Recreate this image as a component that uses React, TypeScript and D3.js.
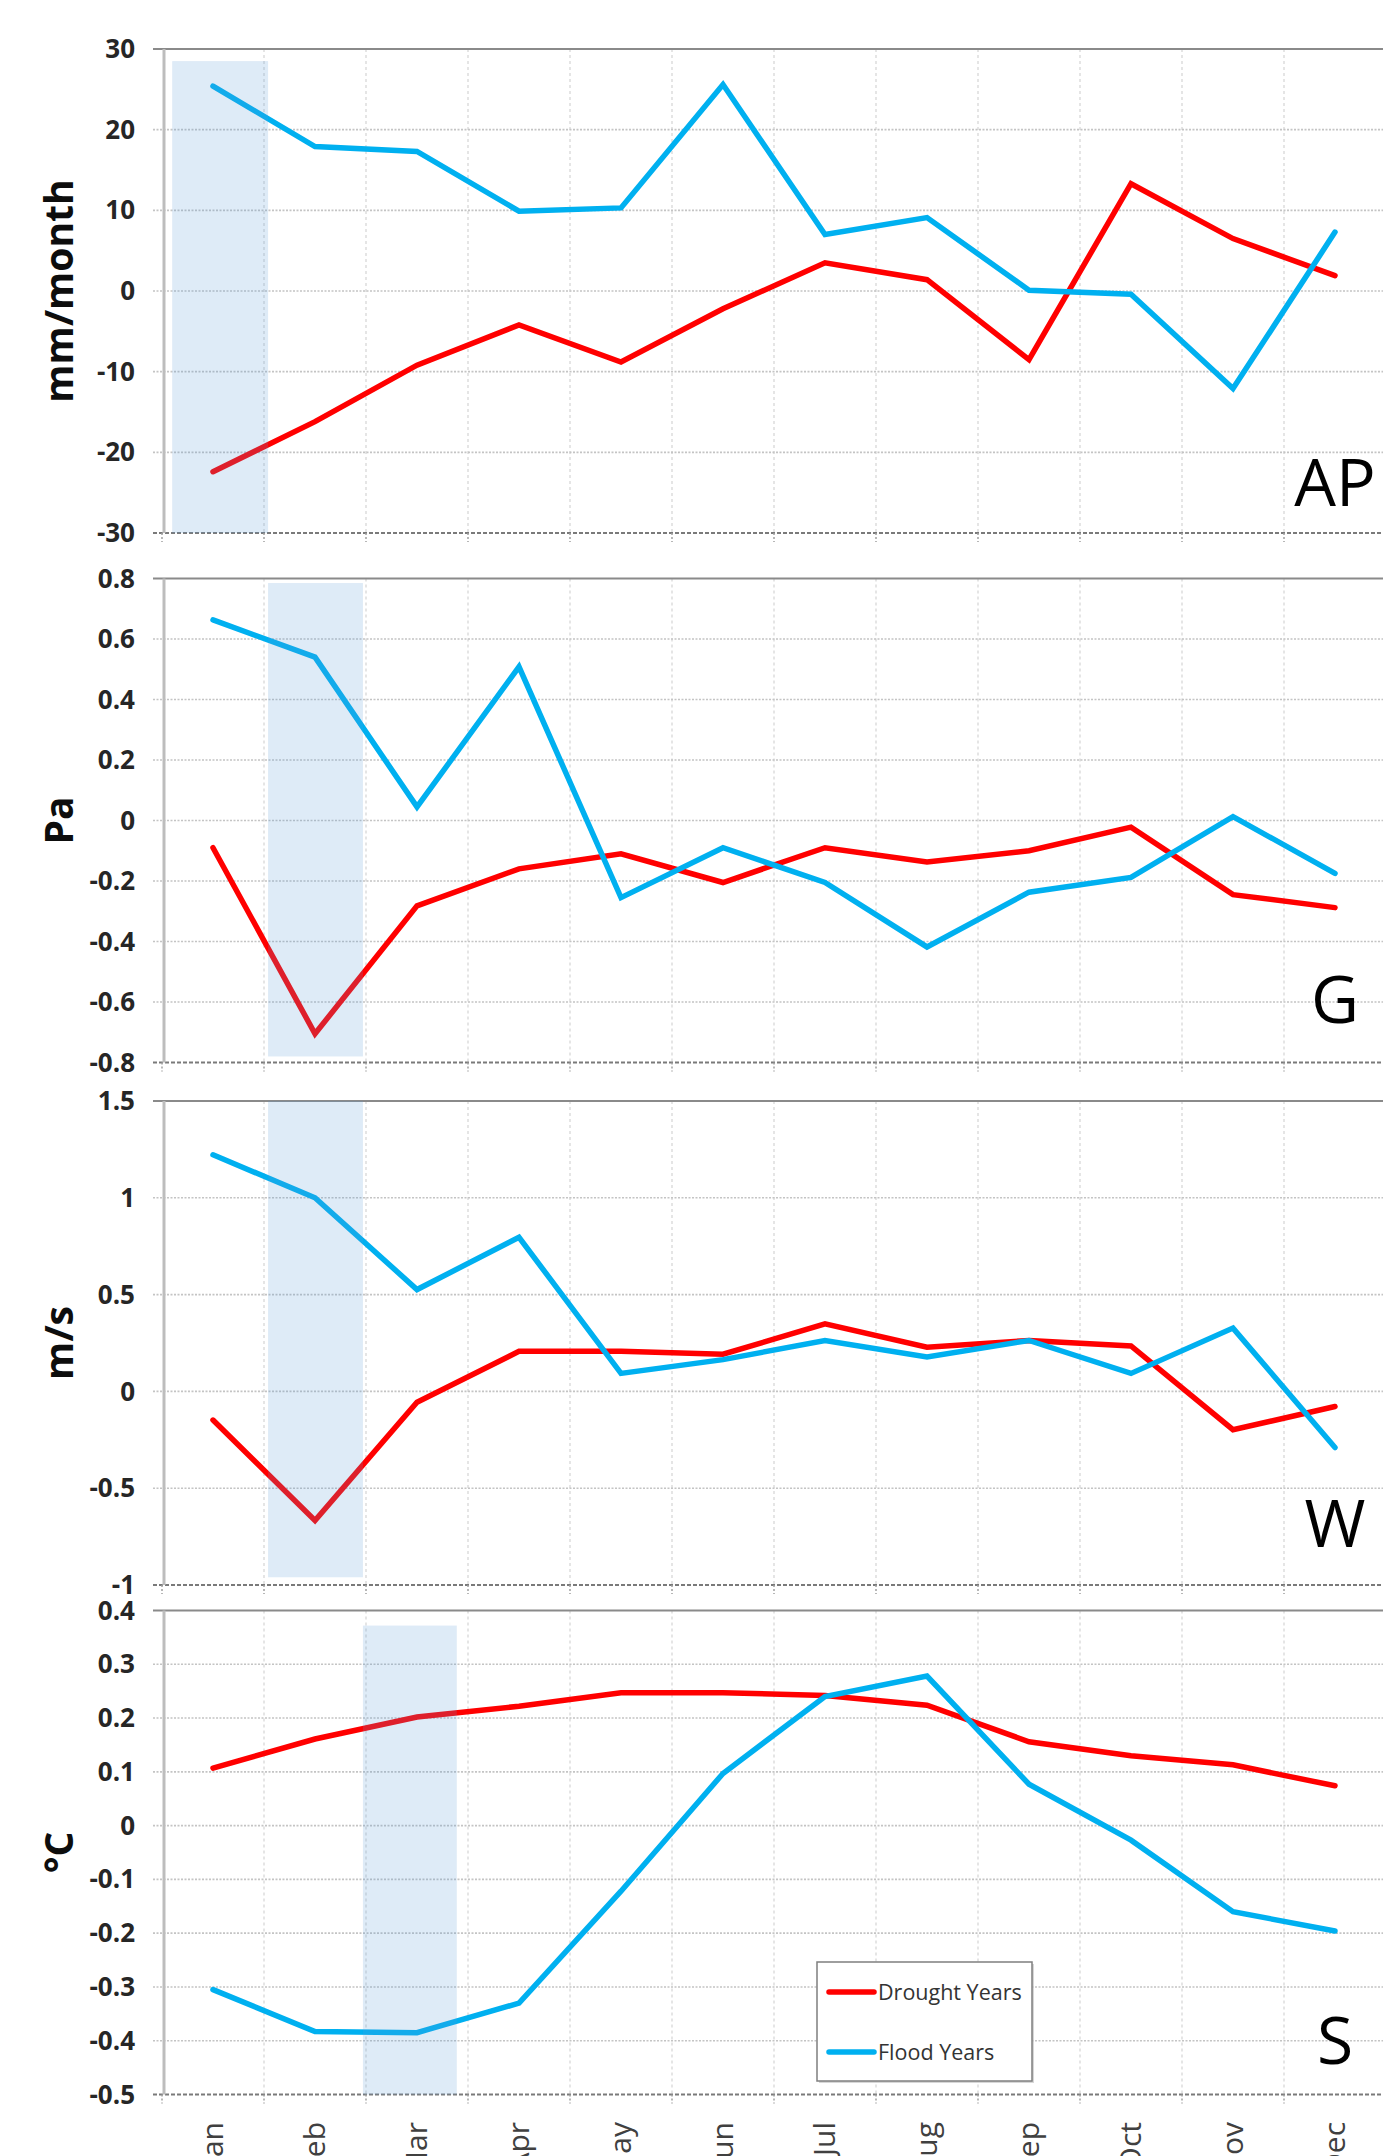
import React from "react";
import * as d3 from "d3";

// ---------- data ----------
const months = ["Jan", "Feb", "Mar", "Apr", "May", "Jun", "Jul", "Aug", "Sep", "Oct", "Nov", "Dec"];
const seriesNames = ["Drought Years", "Flood Years"];

const apDrought = [-22.4, -16.2, -9.2, -4.2, -8.8, -2.2, 3.5, 1.4, -8.5, 13.3, 6.5, 1.9];
const apFlood = [25.4, 17.9, 17.3, 9.9, 10.3, 25.6, 7.0, 9.1, 0.1, -0.4, -12.1, 7.3];
const gDrought = [-0.09, -0.705, -0.282, -0.16, -0.11, -0.205, -0.09, -0.137, -0.1, -0.022, -0.245, -0.288];
const gFlood = [0.663, 0.54, 0.045, 0.508, -0.255, -0.09, -0.205, -0.418, -0.237, -0.188, 0.013, -0.175];
const wDrought = [-0.148, -0.667, -0.056, 0.207, 0.207, 0.192, 0.349, 0.228, 0.263, 0.235, -0.198, -0.078];
const wFlood = [1.222, 1.0, 0.526, 0.796, 0.093, 0.164, 0.263, 0.178, 0.263, 0.093, 0.327, -0.29];
const sDrought = [0.107, 0.161, 0.202, 0.222, 0.247, 0.247, 0.242, 0.224, 0.156, 0.13, 0.113, 0.074];
const sFlood = [-0.305, -0.383, -0.385, -0.33, -0.122, 0.097, 0.24, 0.278, 0.077, -0.027, -0.16, -0.196];

const panelLabels = ["AP", "G", "W", "S"];
const unitLabels = ["mm/month", "Pa", "m/s", "°C"];
const apTicks = [-30, -20, -10, 0, 10, 20, 30];
const gTicks = [-0.8, -0.6, -0.4, -0.2, 0, 0.2, 0.4, 0.6, 0.8];
const wTicks = [-1, -0.5, 0, 0.5, 1, 1.5];
const sTicks = [-0.5, -0.4, -0.3, -0.2, -0.1, 0, 0.1, 0.2, 0.3, 0.4];

// shaded month spans (in month units) and value extents
const shadeMonths = [[0.1, 1.04], [1.04, 1.97], [1.04, 1.97], [1.97, 2.89]];
const shadeValues = [[-30, 28.5], [-0.78, 0.785], [-0.96, 1.5], [-0.5, 0.372]];
// panel label baseline (in value units)
const labelValues = [-26.6, -0.669, -0.804, -0.443];

// ---------- layout ----------
const W = 1383;
const H = 2156;
const plotLeft = 162;
const plotRight = 1386;
const panelTops = [49, 578.5, 1101, 1610.5];
const panelH = 484;
const colors = ["#FF0000", "#00B0F0"];
const FONT = "'Open Sans', 'Noto Sans', sans-serif";

const panels = [
  { ticks: apTicks, series: [apDrought, apFlood] },
  { ticks: gTicks, series: [gDrought, gFlood] },
  { ticks: wTicks, series: [wDrought, wFlood] },
  { ticks: sTicks, series: [sDrought, sFlood] },
];

const fmt = (v: number) => String(Math.round(v * 100) / 100);

export default function App() {
  const x = d3.scaleBand<string>().domain(months).range([plotLeft, plotRight]).padding(0);
  const xm = d3.scaleLinear().domain([0, 12]).range([plotLeft, plotRight]);
  const bw = x.bandwidth();
  const cx = (m: string) => (x(m) as number) + bw / 2;
  const boundaries = d3.range(0, 13).map((i) => xm(i));
  const gridLeft = plotLeft - 9;

  return (
    <svg
      width={W}
      height={H}
      style={{ position: "absolute", left: 0, top: 0, display: "block", background: "#fff" }}
      fontFamily={FONT}
    >
      <rect x={0} y={0} width={W} height={H} fill="#fff" />
      {panels.map((p, pi) => {
        const top = panelTops[pi];
        const bottom = top + panelH;
        const ext = d3.extent(p.ticks) as [number, number];
        const y = d3.scaleLinear().domain(ext).range([bottom, top]);
        const line = d3
          .line<number>()
          .x((_, i) => cx(months[i]))
          .y((d) => y(d));
        const [sm0, sm1] = shadeMonths[pi];
        const [sv0, sv1] = shadeValues[pi];
        return (
          <g key={pi}>
            {/* vertical grid */}
            {boundaries.slice(1).map((bx, i) => (
              <line key={"vg" + i} x1={bx} x2={bx} y1={top} y2={bottom} stroke="#d4d4d4" strokeWidth={1.2} strokeDasharray="3,3" />
            ))}
            {/* horizontal grid */}
            {p.ticks.map((t, i) => {
              const yy = y(t);
              if (t === ext[1]) {
                return <line key={"hg" + i} x1={gridLeft} x2={W} y1={yy} y2={yy} stroke="#8a8a8a" strokeWidth={2.2} />;
              }
              if (t === ext[0]) {
                return <line key={"hg" + i} x1={gridLeft} x2={W} y1={yy} y2={yy} stroke="#7a7a7a" strokeWidth={2} strokeDasharray="4,2" />;
              }
              return <line key={"hg" + i} x1={gridLeft} x2={W} y1={yy} y2={yy} stroke="#c4c4c4" strokeWidth={1.6} strokeDasharray="2,1.5" />;
            })}
            {/* bottom tick marks */}
            {boundaries.map((bx, i) => (
              <line key={"tk" + i} x1={bx} x2={bx} y1={bottom} y2={bottom + 9} stroke="#a0a0a0" strokeWidth={1.5} strokeDasharray="2,2" />
            ))}
            {/* left axis */}
            <line x1={plotLeft + 2} x2={plotLeft + 2} y1={top} y2={bottom} stroke="#bdbdbd" strokeWidth={3} />
            {/* series */}
            {p.series.map((s, si) => (
              <path
                key={"s" + si}
                d={line(s) || ""}
                fill="none"
                stroke={colors[si]}
                strokeWidth={5.5}
                strokeLinejoin="miter"
                strokeLinecap="round"
              />
            ))}
            {/* shading */}
            <rect
              x={xm(sm0)}
              y={y(sv1)}
              width={xm(sm1) - xm(sm0)}
              height={y(sv0) - y(sv1)}
              fill="#5B9BD5"
              fillOpacity={0.2}
            />
            {/* tick labels */}
            {p.ticks.map((t, i) => (
              <text
                key={"tl" + i}
                x={135}
                y={y(t)}
                dy="0.35em"
                textAnchor="end"
                fontSize={26}
                fontWeight={700}
                fill="#262626"
              >
                {fmt(t)}
              </text>
            ))}
            {/* unit label */}
            <text
              transform={`translate(73,${(top + bottom) / 2}) rotate(-90)`}
              textAnchor="middle"
              fontSize={39}
              fontWeight={700}
              fill="#0d0d0d"
            >
              {unitLabels[pi]}
            </text>
            {/* panel label */}
            <text x={cx(months[11])} y={y(labelValues[pi])} textAnchor="middle" fontSize={66} fill="#000" fontWeight={400}>
              {panelLabels[pi]}
            </text>
          </g>
        );
      })}
      {/* month labels */}
      {months.map((m) => (
        <text
          key={m}
          transform={`translate(${cx(m) + 10},2122) rotate(-90)`}
          textAnchor="end"
          fontSize={30}
          fill="#404040"
        >
          {m}
        </text>
      ))}
      {/* legend */}
      <g>
        <rect x={819} y={1964} width={215} height={119} fill="#bdbdbd" opacity={0.6} />
        <rect x={817} y={1962} width={215} height={119} fill="#fff" stroke="#7f7f7f" strokeWidth={1.5} />
        {seriesNames.map((n, i) => {
          const ly = 1992 + i * 60;
          return (
            <g key={n}>
              <line x1={829} x2={874} y1={ly} y2={ly} stroke={colors[i]} strokeWidth={5.5} strokeLinecap="round" />
              <text x={878} y={ly} dy="0.35em" fontSize={21.5} fill="#333">
                {n}
              </text>
            </g>
          );
        })}
      </g>
    </svg>
  );
}
